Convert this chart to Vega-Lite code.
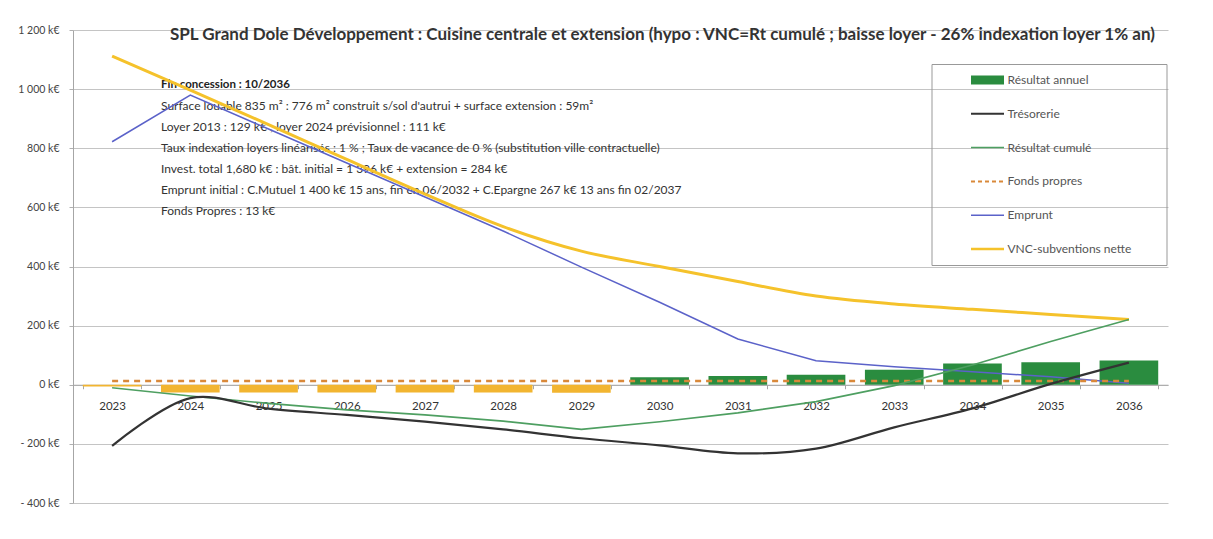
{
  "$schema": "https://vega.github.io/schema/vega-lite/v6.json",
  "width": 1095,
  "height": 473,
  "autosize": {"type": "none"},
  "padding": {"left": 73, "top": 30, "right": 45, "bottom": 36},
  "background": "white",
  "config": {"font": "Lato", "view": {"stroke": null}},
  "title": {
    "text": "SPL Grand Dole Développement : Cuisine centrale et extension (hypo : VNC=Rt cumulé ; baisse loyer - 26% indexation loyer 1% an)",
    "anchor": "start",
    "frame": "group",
    "dx": 97,
    "offset": -27,
    "baseline": "middle",
    "fontSize": 17,
    "fontWeight": "bold",
    "color": "#333333",
    "font": "Lato"
  },
  "datasets": {
    "annual": [
      {"year": "2023", "series": "Résultat annuel", "value": -6},
      {"year": "2024", "series": "Résultat annuel", "value": -26},
      {"year": "2025", "series": "Résultat annuel", "value": -26},
      {"year": "2026", "series": "Résultat annuel", "value": -26},
      {"year": "2027", "series": "Résultat annuel", "value": -26},
      {"year": "2028", "series": "Résultat annuel", "value": -26},
      {"year": "2029", "series": "Résultat annuel", "value": -27},
      {"year": "2030", "series": "Résultat annuel", "value": 25},
      {"year": "2031", "series": "Résultat annuel", "value": 30},
      {"year": "2032", "series": "Résultat annuel", "value": 34},
      {"year": "2033", "series": "Résultat annuel", "value": 51},
      {"year": "2034", "series": "Résultat annuel", "value": 72},
      {"year": "2035", "series": "Résultat annuel", "value": 76},
      {"year": "2036", "series": "Résultat annuel", "value": 82}
    ],
    "lines": [
      {"year": "2023", "series": "Trésorerie", "value": -207},
      {"year": "2024", "series": "Trésorerie", "value": -45},
      {"year": "2025", "series": "Trésorerie", "value": -81},
      {"year": "2026", "series": "Trésorerie", "value": -102},
      {"year": "2027", "series": "Trésorerie", "value": -125},
      {"year": "2028", "series": "Trésorerie", "value": -151},
      {"year": "2029", "series": "Trésorerie", "value": -181},
      {"year": "2030", "series": "Trésorerie", "value": -205},
      {"year": "2031", "series": "Trésorerie", "value": -232},
      {"year": "2032", "series": "Trésorerie", "value": -216},
      {"year": "2033", "series": "Trésorerie", "value": -144},
      {"year": "2034", "series": "Trésorerie", "value": -80},
      {"year": "2035", "series": "Trésorerie", "value": 3},
      {"year": "2036", "series": "Trésorerie", "value": 75},
      {"year": "2023", "series": "Résultat cumulé", "value": -10},
      {"year": "2024", "series": "Résultat cumulé", "value": -38},
      {"year": "2025", "series": "Résultat cumulé", "value": -63},
      {"year": "2026", "series": "Résultat cumulé", "value": -85},
      {"year": "2027", "series": "Résultat cumulé", "value": -102},
      {"year": "2028", "series": "Résultat cumulé", "value": -123},
      {"year": "2029", "series": "Résultat cumulé", "value": -151},
      {"year": "2030", "series": "Résultat cumulé", "value": -125},
      {"year": "2031", "series": "Résultat cumulé", "value": -95},
      {"year": "2032", "series": "Résultat cumulé", "value": -57},
      {"year": "2033", "series": "Résultat cumulé", "value": -3},
      {"year": "2034", "series": "Résultat cumulé", "value": 67},
      {"year": "2035", "series": "Résultat cumulé", "value": 146},
      {"year": "2036", "series": "Résultat cumulé", "value": 221},
      {"year": "2023", "series": "Fonds propres", "value": 13},
      {"year": "2024", "series": "Fonds propres", "value": 13},
      {"year": "2025", "series": "Fonds propres", "value": 13},
      {"year": "2026", "series": "Fonds propres", "value": 13},
      {"year": "2027", "series": "Fonds propres", "value": 13},
      {"year": "2028", "series": "Fonds propres", "value": 13},
      {"year": "2029", "series": "Fonds propres", "value": 13},
      {"year": "2030", "series": "Fonds propres", "value": 13},
      {"year": "2031", "series": "Fonds propres", "value": 13},
      {"year": "2032", "series": "Fonds propres", "value": 13},
      {"year": "2033", "series": "Fonds propres", "value": 13},
      {"year": "2034", "series": "Fonds propres", "value": 13},
      {"year": "2035", "series": "Fonds propres", "value": 13},
      {"year": "2036", "series": "Fonds propres", "value": 13},
      {"year": "2023", "series": "Emprunt", "value": 822},
      {"year": "2024", "series": "Emprunt", "value": 980},
      {"year": "2025", "series": "Emprunt", "value": 865},
      {"year": "2026", "series": "Emprunt", "value": 750},
      {"year": "2027", "series": "Emprunt", "value": 635},
      {"year": "2028", "series": "Emprunt", "value": 520},
      {"year": "2029", "series": "Emprunt", "value": 398},
      {"year": "2030", "series": "Emprunt", "value": 279},
      {"year": "2031", "series": "Emprunt", "value": 155},
      {"year": "2032", "series": "Emprunt", "value": 81},
      {"year": "2033", "series": "Emprunt", "value": 61},
      {"year": "2034", "series": "Emprunt", "value": 44},
      {"year": "2035", "series": "Emprunt", "value": 27},
      {"year": "2036", "series": "Emprunt", "value": 5},
      {"year": "2023", "series": "VNC-subventions nette", "value": 1112},
      {"year": "2024", "series": "VNC-subventions nette", "value": 997},
      {"year": "2025", "series": "VNC-subventions nette", "value": 880},
      {"year": "2026", "series": "VNC-subventions nette", "value": 762},
      {"year": "2027", "series": "VNC-subventions nette", "value": 645},
      {"year": "2028", "series": "VNC-subventions nette", "value": 535},
      {"year": "2029", "series": "VNC-subventions nette", "value": 452},
      {"year": "2030", "series": "VNC-subventions nette", "value": 400},
      {"year": "2031", "series": "VNC-subventions nette", "value": 349},
      {"year": "2032", "series": "VNC-subventions nette", "value": 300},
      {"year": "2033", "series": "VNC-subventions nette", "value": 273},
      {"year": "2034", "series": "VNC-subventions nette", "value": 255},
      {"year": "2035", "series": "VNC-subventions nette", "value": 238},
      {"year": "2036", "series": "VNC-subventions nette", "value": 221}
    ],
    "notes": [
      {"year": "2024", "level": 1015, "bold": true, "note": "Fin concession : 10/2036"},
      {"year": "2024", "level": 944, "bold": false, "note": "Surface louable 835 m² : 776 m² construit s/sol d'autrui + surface extension : 59m²"},
      {"year": "2024", "level": 873, "bold": false, "note": "Loyer 2013 : 129 k€ ; loyer 2024 prévisionnel : 111 k€"},
      {"year": "2024", "level": 802, "bold": false, "note": "Taux indexation loyers linéarisés : 1 % ; Taux de vacance de 0 % (substitution ville contractuelle)"},
      {"year": "2024", "level": 731, "bold": false, "note": "Invest. total 1,680 k€ : bât. initial = 1 396 k€ + extension = 284 k€"},
      {"year": "2024", "level": 660, "bold": false, "note": "Emprunt initial : C.Mutuel 1 400 k€ 15 ans, fin en 06/2032 + C.Epargne 267 k€ 13 ans fin 02/2037"},
      {"year": "2024", "level": 588, "bold": false, "note": "Fonds Propres : 13 k€"}
    ]
  },
  "layer": [
    {
      "data": {"name": "annual"},
      "mark": {"type": "bar"},
      "encoding": {
        "x": {
          "field": "year",
          "type": "ordinal",
          "scale": {"paddingInner": 0.25, "paddingOuter": 0.125},
          "axis": {
            "title": null,
            "labelAngle": 0,
            "offset": -118.25,
            "bandPosition": 0.5,
            "domainColor": "#a6a6a6",
            "tickColor": "#a6a6a6",
            "tickSize": 4,
            "tickBand": "extent",
            "labelFontSize": 11.5,
            "labelColor": "#333333",
            "labelPadding": 12,
            "grid": false
          }
        },
        "y": {
          "field": "value",
          "type": "quantitative",
          "scale": {"domain": [-400, 1200], "nice": false, "zero": false},
          "axis": {
            "title": null,
            "values": [-400, -200, 0, 200, 400, 600, 800, 1000, 1200],
            "grid": true,
            "gridColor": "#c4c4c4",
            "gridWidth": 1,
            "domain": true,
            "domainColor": "#a6a6a6",
            "tickColor": "#b0b0b0",
            "tickSize": 4,
            "labelFontSize": 10.5,
            "labelColor": "#444444",
            "labelPadding": 10,
            "labelExpr": "(datum.value < 0 ? '- ' : '') + replace(format(abs(datum.value), ','), ',', ' ') + ' k€'"
          }
        },
        "color": {
          "field": "series",
          "type": "nominal",
          "condition": {"test": "datum.value < 0", "value": "#F2B530"},
          "scale": {
            "domain": ["Résultat annuel", "Trésorerie", "Résultat cumulé", "Fonds propres", "Emprunt", "VNC-subventions nette"],
            "range": ["#2A8C3F", "#333333", "#4E9F61", "#D9893A", "#5B62C9", "#F5C22B"]
          },
          "legend": {
            "orient": "none",
            "legendX": 858.5,
            "legendY": 34,
            "title": "\u00a0",
            "titleOrient": "right",
            "titlePadding": 25,
            "titleFontSize": 11,
            "symbolType": "M-1,0H1",
            "symbolSize": 1089,
            "symbolOffset": 40,
            "labelOffset": 14,
            "rowPadding": 21.8,
            "padding": 10,
            "strokeColor": "#999999",
            "labelFontSize": 12,
            "labelColor": "#555555",
            "labelFont": "Lato",
            "encode": {
              "symbols": {
                "update": {
                  "shape": {"signal": "datum.value === 'Résultat annuel' ? 'M-1,-0.28H1V0.28H-1Z' : 'M-1,0H1'"},
                  "fill": {"signal": "datum.value === 'Résultat annuel' ? '#2A8C3F' : 'transparent'"},
                  "stroke": {"scale": "color", "field": "value"},
                  "strokeWidth": {"signal": "datum.value === 'Trésorerie' ? 2 : datum.value === 'VNC-subventions nette' ? 2.5 : datum.value === 'Fonds propres' ? 2 : datum.value === 'Résultat annuel' ? 0 : 1.5"},
                  "strokeDash": {"signal": "datum.value === 'Fonds propres' ? [4, 3] : [1, 0]"},
                  "opacity": {"value": 1}
                }
              }
            }
          }
        }
      }
    },
    {
      "data": {"name": "notes"},
      "transform": [{"filter": "!datum.bold"}],
      "mark": {"type": "text", "align": "left", "baseline": "middle", "color": "#333333", "fontSize": 12},
      "encoding": {
        "x": {"field": "year", "type": "ordinal", "bandPosition": 0},
        "y": {"field": "level", "type": "quantitative"},
        "text": {"field": "note"}
      }
    },
    {
      "data": {"name": "notes"},
      "transform": [{"filter": "datum.bold"}],
      "mark": {"type": "text", "align": "left", "baseline": "middle", "color": "#222222", "fontSize": 11.5, "fontWeight": "bold"},
      "encoding": {
        "x": {"field": "year", "type": "ordinal", "bandPosition": 0},
        "y": {"field": "level", "type": "quantitative"},
        "text": {"field": "note"}
      }
    },
    {
      "data": {"name": "lines"},
      "transform": [{"filter": "datum.series === 'VNC-subventions nette'"}],
      "mark": {"type": "line", "strokeWidth": 3, "interpolate": "monotone"},
      "encoding": {"x": {"field": "year", "type": "ordinal"}, "y": {"field": "value", "type": "quantitative"}, "color": {"field": "series", "type": "nominal"}}
    },
    {
      "data": {"name": "lines"},
      "transform": [{"filter": "datum.series === 'Emprunt'"}],
      "mark": {"type": "line", "strokeWidth": 1.5},
      "encoding": {"x": {"field": "year", "type": "ordinal"}, "y": {"field": "value", "type": "quantitative"}, "color": {"field": "series", "type": "nominal"}}
    },
    {
      "data": {"name": "lines"},
      "transform": [{"filter": "datum.series === 'Fonds propres'"}],
      "mark": {"type": "line", "strokeWidth": 2.5, "strokeDash": [6, 5]},
      "encoding": {"x": {"field": "year", "type": "ordinal"}, "y": {"field": "value", "type": "quantitative"}, "color": {"field": "series", "type": "nominal"}}
    },
    {
      "data": {"name": "lines"},
      "transform": [{"filter": "datum.series === 'Résultat cumulé'"}],
      "mark": {"type": "line", "strokeWidth": 1.6},
      "encoding": {"x": {"field": "year", "type": "ordinal"}, "y": {"field": "value", "type": "quantitative"}, "color": {"field": "series", "type": "nominal"}}
    },
    {
      "data": {"name": "lines"},
      "transform": [{"filter": "datum.series === 'Trésorerie'"}],
      "mark": {"type": "line", "strokeWidth": 2.2, "interpolate": "catmull-rom"},
      "encoding": {"x": {"field": "year", "type": "ordinal"}, "y": {"field": "value", "type": "quantitative"}, "color": {"field": "series", "type": "nominal"}}
    }
  ]
}
